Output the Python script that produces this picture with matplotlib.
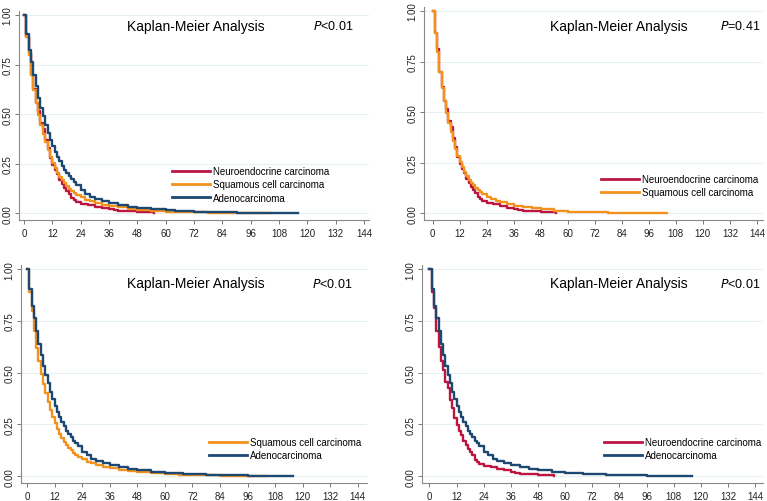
import numpy as np
import matplotlib
matplotlib.use("Agg")
import matplotlib.pyplot as plt

plt.rcParams['font.family'] = ['Liberation Sans', 'DejaVu Sans']

# survival estimates (months, survival probability)
neuro_t = [0, 1, 2, 3, 4, 5, 6, 7, 8, 9, 10, 11, 12, 13, 14, 15, 16, 17, 18, 19, 20,
           21, 22, 24, 27, 30, 33, 36, 38, 40, 46, 48, 52, 55]
neuro_s = [1.0, 0.89, 0.81, 0.70, 0.625, 0.555, 0.515, 0.455, 0.425, 0.37, 0.33, 0.28,
           0.245, 0.22, 0.20, 0.17, 0.15, 0.13, 0.115, 0.10, 0.08, 0.07, 0.06, 0.05,
           0.045, 0.035, 0.028, 0.022, 0.015, 0.012, 0.010, 0.008, 0.005, 0.003]

squam_t = [0, 1, 2, 3, 4, 5, 6, 7, 8, 9, 10, 11, 12, 13, 14, 15, 16, 17, 18, 19, 20,
           21, 22, 24, 26, 28, 30, 33, 36, 40, 44, 48, 54, 60, 66, 72, 78, 84, 90, 96,
           100, 104]
squam_s = [1.0, 0.89, 0.80, 0.70, 0.62, 0.555, 0.495, 0.445, 0.40, 0.36, 0.32, 0.285,
           0.255, 0.228, 0.205, 0.185, 0.167, 0.152, 0.138, 0.125, 0.114, 0.104, 0.095,
           0.081, 0.07, 0.062, 0.055, 0.045, 0.038, 0.03, 0.024, 0.019, 0.013, 0.009,
           0.007, 0.005, 0.004, 0.003, 0.002, 0.0015, 0.001, 0.0]

adeno_t = [0, 1, 2, 3, 4, 5, 6, 7, 8, 9, 10, 11, 12, 13, 14, 15, 16, 17, 18, 19, 20,
           21, 22, 24, 26, 28, 30, 33, 36, 40, 44, 48, 54, 60, 64, 68, 72, 78, 84, 90,
           96, 102, 108, 112, 116]
adeno_s = [1.0, 0.905, 0.823, 0.763, 0.70, 0.64, 0.584, 0.532, 0.489, 0.448, 0.406,
           0.371, 0.339, 0.31, 0.285, 0.262, 0.24, 0.22, 0.203, 0.187, 0.172, 0.158,
           0.145, 0.116, 0.10, 0.085, 0.073, 0.062, 0.055, 0.044, 0.035, 0.029, 0.021,
           0.016, 0.013, 0.011, 0.009, 0.007, 0.005, 0.004, 0.003, 0.002, 0.0012,
           0.0006, 0.0]

groups = {
    'Neuroendocrine carcinoma': (neuro_t, neuro_s, '#BC1540'),
    'Squamous cell carcinoma': (squam_t, squam_s, '#F2911C'),
    'Adenocarcinoma': (adeno_t, adeno_s, '#1C4872'),
}

panels = [
    # (groups, p text, axes box px l,t,r,b, xlim, title pos px, p pos px, legend pos px)
    (['Neuroendocrine carcinoma', 'Squamous cell carcinoma', 'Adenocarcinoma'],
     '<0.01', (19, 12, 369, 221), (-2.1, 146.1), (196, 27), (313, 27), (172, 167)),
    (['Neuroendocrine carcinoma', 'Squamous cell carcinoma'],
     '=0.41', (424, 8, 763, 221), (-3.8, 146.7), (619, 27), (720, 27), (601, 175)),
    (['Squamous cell carcinoma', 'Adenocarcinoma'],
     '<0.01', (21, 266, 367, 484), (-2.6, 148), (196, 284), (312, 284), (209, 438)),
    (['Neuroendocrine carcinoma', 'Adenocarcinoma'],
     '<0.01', (422, 266, 763, 484), (-3.3, 147.5), (619, 284), (720, 284), (604, 438)),
]

W, H = 767, 502
fig = plt.figure(figsize=(W / 100, H / 100), dpi=100)

for names, ptxt, (l, t, r, b), xlim, tpos, ppos, lpos in panels:
    ax = fig.add_axes([l / W, 1 - b / H, (r - l) / W, (b - t) / H])
    for name in names:
        tt, ss, col = groups[name]
        ax.step(tt, ss, where='post', color=col, lw=1.7, label=name)
    ax.set_xlim(*xlim)
    ax.set_ylim(-0.033, 1.02)
    ax.set_xticks(np.arange(0, 145, 12))
    ax.set_yticks([0, 0.25, 0.5, 0.75, 1.0])
    ax.set_yticklabels(['0.00', '0.25', '0.50', '0.75', '1.00'], rotation=90, va='center')
    ax.tick_params(labelsize=7, colors='#222222', length=3, width=0.7)
    ax.tick_params(axis='x', pad=3)
    ax.tick_params(axis='y', pad=1.5)
    ax.tick_params(axis='both', color='#777777')
    ax.grid(axis='y', color='#E6EFF1', lw=0.8)
    ax.set_axisbelow(True)
    for s in ['top', 'right']:
        ax.spines[s].set_visible(False)
    for s in ['left', 'bottom']:
        ax.spines[s].set_color('#888888')
        ax.spines[s].set_linewidth(0.8)
    fig.text(tpos[0] / W, 1 - tpos[1] / H, 'Kaplan-Meier Analysis', fontsize=10,
             ha='center', va='center')
    fig.text(ppos[0] / W, 1 - ppos[1] / H, r'$\mathit{P}$' + ptxt, fontsize=9,
             ha='left', va='center')
    leg = ax.legend(loc='upper left', bbox_to_anchor=(lpos[0] / W, 1 - lpos[1] / H),
                    bbox_transform=fig.transFigure, frameon=False, fontsize=7,
                    handlelength=3.9, handletextpad=0.35, labelspacing=0.35,
                    borderaxespad=0, borderpad=0)
    for ln in leg.get_lines():
        ln.set_linewidth(2.0)

fig.savefig('out.png', dpi=100)
